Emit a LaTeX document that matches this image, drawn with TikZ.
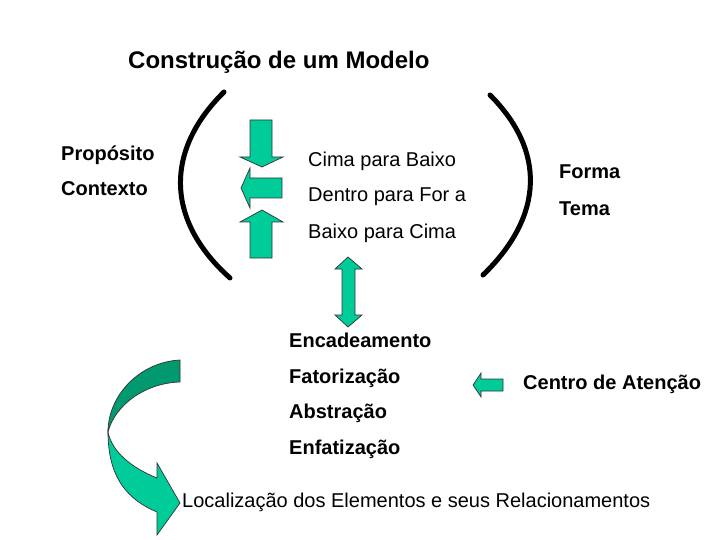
\documentclass[tikz,border=0pt]{standalone}
\usepackage{fontspec}
\setmainfont{Liberation Sans}
\definecolor{mint}{RGB}{0,204,153}
\definecolor{mintdark}{RGB}{0,153,112}
\begin{document}
\begin{tikzpicture}[x=1pt,y=-1pt,
  lbl/.style={anchor=base west,inner sep=0pt,font=\fontsize{20}{24}\selectfont},
  blbl/.style={lbl,font=\fontsize{20}{24}\selectfont\bfseries},
  garrow/.style={fill=mint,draw=black!80,line width=0.7pt,line join=miter},
  bracket/.style={line width=5pt,line cap=round}]
\path[use as bounding box] (0,0) rectangle (720,540);
\fill[white] (0,0) rectangle (720,540);
% title
\node[anchor=base west,inner sep=0pt,font=\fontsize{24}{28}\selectfont\bfseries] (title) at (128,69) {Construção de um Modelo};
% left labels
\node[blbl] (prop) at (61,161) {Propósito};
\node[blbl] (ctx) at (61,196) {Contexto};
% middle labels
\node[lbl] (cpb) at (308,167) {Cima para Baixo};
\node[lbl] (dpf) at (308,202) {Dentro para For a};
\node[lbl] (bpc) at (308,239) {Baixo para Cima};
% right labels
\node[blbl] (forma) at (559,179) {Forma};
\node[blbl] (tema) at (559,215) {Tema};
% brackets
\draw[bracket] (224,92) .. controls (165,150) and (165,220) .. (230,278);
\draw[bracket] (490,95) .. controls (545,150) and (545,215) .. (483,275);
% three arrows
\draw[garrow] (250,120) -- (272,120) -- (272,157) -- (283,157) -- (262,167) -- (240,157) -- (250,157) -- cycle;
\draw[garrow] (282,178) -- (250,178) -- (250,168) -- (241,188) -- (250,208) -- (250,198) -- (282,198) -- cycle;
\draw[garrow] (250,258) -- (272,258) -- (272,222) -- (283,222) -- (262,210) -- (240,222) -- (250,222) -- cycle;
% double arrow
\draw[garrow] (348,257) -- (362,269) -- (355,269) -- (355,315) -- (362,315) -- (348,327) -- (335,315) -- (342,315) -- (342,269) -- (335,269) -- cycle;
% lower labels
\node[blbl] (enc) at (289,347) {Encadeamento};
\node[blbl] (fat) at (289,383) {Fatorização};
\node[blbl] (abs) at (289,418) {Abstração};
\node[blbl] (enf) at (289,454) {Enfatização};
\node[blbl] (cen) at (523,389) {Centro de Atenção};
% small left arrow
\draw[garrow] (503,379) -- (481,379) -- (481,373) -- (473,385) -- (481,397) -- (481,391) -- (503,391) -- cycle;
% curved arrow
\draw[fill=mintdark,draw=black!80,line width=0.7pt] (180,360) .. controls (140,362) and (108,395) .. (108,432)
  .. controls (115,405) and (145,383) .. (180,382) -- cycle;
\draw[garrow] (108,432) .. controls (108,478) and (128,500) .. (157,512) -- (157,535) -- (180,503) -- (157,463) -- (157,478)
  .. controls (132,468) and (112,452) .. (108,432) -- cycle;
\node[lbl] (loc) at (182,507) {Localização dos Elementos e seus Relacionamentos};
\end{tikzpicture}
\end{document}
